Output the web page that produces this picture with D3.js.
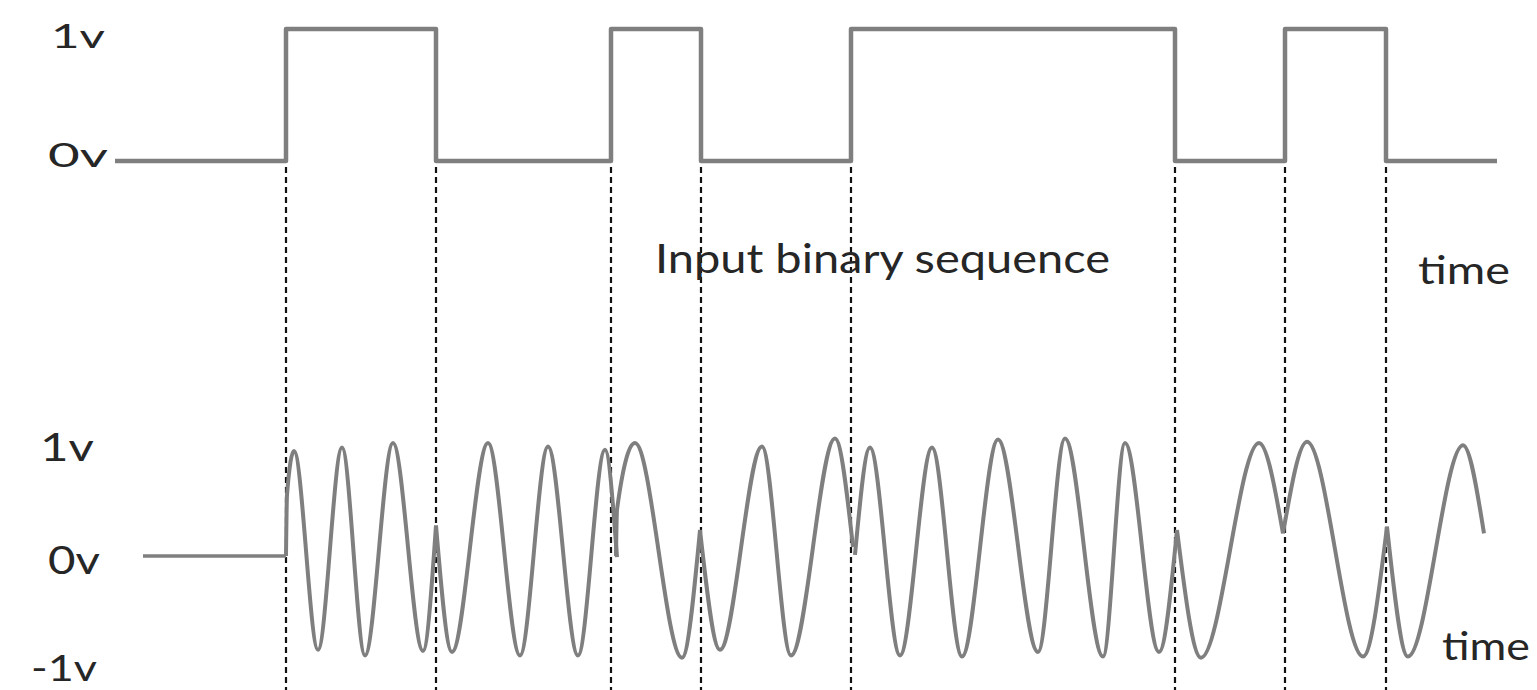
<!DOCTYPE html>
<html>
<head>
<meta charset="utf-8">
<script src="https://cdn.jsdelivr.net/npm/d3@7"></script>
<style>
    body { margin: 0; background: #fff; }
    text { font-family: Lato, "Open Sans", sans-serif; fill: #262626; }
</style>
</head>
<body>
<div id="chart"></div>
<script>
// bit sequence and the times where each bit starts (last entry = end of trace)
const bits = [0, 1, 0, 1, 0, 1, 0, 1, 0];
const edges = [0, 1.71, 3.21, 4.96, 5.86, 7.36, 10.60, 11.70, 12.71, 13.82];

// modulated carrier as [time, volts] per bit interval
const idleLine = [[0.28, 0], [1.71, 0]];
const carrier = [
    [[1.71, 0], [1.72, 0.54], [1.79, 0.93], [2.03, -0.83], [2.27, 0.96], [2.50, -0.88], [2.78, 1.0], [3.08, -0.84], [3.21, 0.27]],
    [[3.21, 0.27], [3.37, -0.85], [3.73, 1.0], [4.05, -0.88], [4.33, 0.97], [4.63, -0.88], [4.90, 0.94], [5.02, -0.01]],
    [[5.01, 0], [5.02, 0.41], [5.20, 1.0], [5.67, -0.9], [5.85, 0.23]],
    [[5.85, 0.23], [6.05, -0.83], [6.47, 0.97], [6.76, -0.88], [7.20, 1.04], [7.38, 0.08]],
    [[7.40, 0.01], [7.55, 0.96], [7.85, -0.88], [8.17, 0.96], [8.47, -0.89], [8.83, 1.03], [9.23, -0.85], [9.50, 1.04], [9.88, -0.89], [10.10, 1.0], [10.44, -0.85], [10.62, 0.23]],
    [[10.62, 0.23], [10.86, -0.9], [11.44, 1.0], [11.68, 0.2]],
    [[11.68, 0.2], [11.92, 1.01], [12.48, -0.89], [12.72, 0.26]],
    [[12.72, 0.26], [12.93, -0.89], [13.48, 0.98], [13.69, 0.20]],
];

const topTicks = ["0v", "1v"];
const bottomTicks = ["-1v", "0v", "1v"];

const width = 1537;
const height = 690;
const waveColor = "#7f7f7f";

const x = d3.scaleLinear().domain([0, 14]).range([115, 1515]);
const yTop = d3.scaleLinear().domain([0, 1]).range([161, 29]);
const yBot = d3.scaleLinear().domain([-1, 1]).range([669, 443]);

const svg = d3.select("#chart").append("svg")
    .attr("width", width)
    .attr("height", height);

// dashed markers at every bit change
svg.append("g")
    .selectAll("line")
    .data(edges.slice(1, -1))
    .join("line")
    .attr("x1", d => x(d))
    .attr("x2", d => x(d))
    .attr("y1", yTop(0) + 6)
    .attr("y2", height)
    .attr("stroke", "#111")
    .attr("stroke-width", 2.2)
    .attr("stroke-dasharray", "6,4");

// input binary sequence
const stepPts = bits.map((b, i) => [edges[i], b]).concat([[edges[edges.length - 1], bits[bits.length - 1]]]);
svg.append("path")
    .attr("d", d3.line().x(d => x(d[0])).y(d => yTop(d[1])).curve(d3.curveStepAfter)(stepPts))
    .attr("fill", "none")
    .attr("stroke", waveColor)
    .attr("stroke-width", 4.5)
    .attr("stroke-linejoin", "round");

// modulated output
const waveLine = d3.line().x(d => x(d[0])).y(d => yBot(d[1])).curve(d3.curveMonotoneX);
svg.append("path")
    .attr("d", d3.line().x(d => x(d[0])).y(d => yBot(d[1]))(idleLine))
    .attr("fill", "none")
    .attr("stroke", waveColor)
    .attr("stroke-width", 3.5);

svg.append("g")
    .selectAll("path")
    .data(carrier)
    .join("path")
    .attr("d", waveLine)
    .attr("fill", "none")
    .attr("stroke", waveColor)
    .attr("stroke-width", 4)
    .attr("stroke-linejoin", "round");

// voltage labels (the source picture has them stretched sideways)
function label(txt, px, py, size, len) {
    svg.append("text")
        .attr("x", px).attr("y", py)
        .style("font-size", size + "px")
        .attr("textLength", len)
        .attr("lengthAdjust", "spacingAndGlyphs")
        .text(txt);
}
label(topTicks[1], 51, yTop(1) + 19, 33, 54);
label(topTicks[0], 48, yTop(0) + 6, 33, 60);

label(bottomTicks[2], 40, yBot(1) + 18, 38, 54);
label(bottomTicks[1], 48, yBot(0) + 18, 38, 52);
label(bottomTicks[0], 31, yBot(-1) + 12, 36, 66);

// captions
svg.append("text")
    .attr("x", 655).attr("y", 273)
    .style("font-size", "40px")
    .attr("textLength", 455)
    .attr("lengthAdjust", "spacingAndGlyphs")
    .text("Input binary sequence");

svg.append("text")
    .attr("x", 1418).attr("y", 284)
    .style("font-size", "38px")
    .attr("textLength", 92)
    .attr("lengthAdjust", "spacingAndGlyphs")
    .text("time");

svg.append("text")
    .attr("x", 1442).attr("y", 660)
    .style("font-size", "38px")
    .attr("textLength", 88)
    .attr("lengthAdjust", "spacingAndGlyphs")
    .text("time");
</script>
</body>
</html>
